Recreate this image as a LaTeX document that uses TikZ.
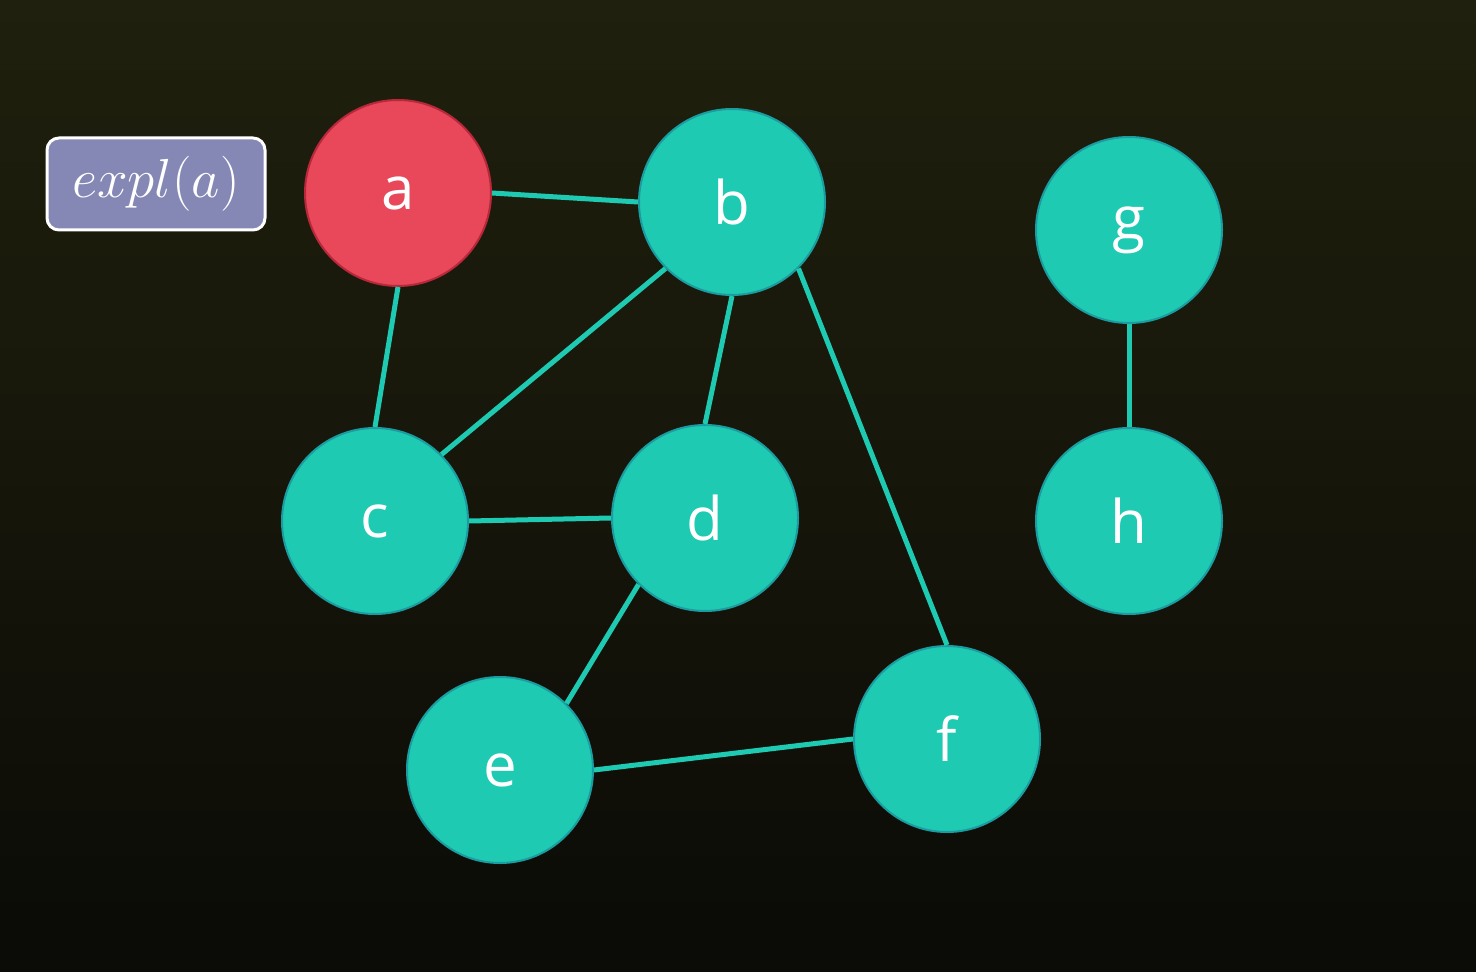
\documentclass[tikz,border=0pt]{standalone}
\usepackage{fix-cm}
\usepackage{fontspec}
\setsansfont{Open Sans}
\begin{document}
\definecolor{bgtop}{HTML}{20200E}
\definecolor{bgbot}{HTML}{0B0B07}
\definecolor{teal}{HTML}{1FCAB2}
\definecolor{tealdark}{HTML}{1A9CA0}
\definecolor{redfill}{HTML}{E8485A}
\definecolor{reddark}{HTML}{B8283A}
\definecolor{boxfill}{HTML}{8588B4}
\begin{tikzpicture}[x=0.5pt,y=-0.5pt,
  vert/.style={circle,minimum size=93pt,inner sep=0pt,fill=teal,draw=tealdark,line width=1pt,
    text=white,font=\sffamily\fontsize{30}{30}\selectfont},
  hot/.style={vert,fill=redfill,draw=reddark},
  edge/.style={draw=teal,line width=2.5pt},
  expbox/.style={rounded corners=6pt,fill=boxfill,draw=white,line width=1.5pt,
    minimum width=109pt,minimum height=46pt,inner sep=0pt,text=white}]
\useasboundingbox (0,0) rectangle (1476,972);
\shade[top color=bgtop,bottom color=bgbot] (0,0) rectangle (1476,972);

\node[expbox] (lbl) at (156,184) {\fontsize{27.5}{27.5}\selectfont\raisebox{-1.5pt}{$expl(a)$}};

\node[hot]  (a) at (398,193) {\raisebox{-2pt}{a}};
\node[vert] (b) at (732,202) {b};
\node[vert] (g) at (1129,230) {g};
\node[vert] (c) at (375,521) {\raisebox{-2pt}{c}};
\node[vert] (d) at (705,518) {d};
\node[vert] (h) at (1129,521) {h};
\node[vert] (e) at (500,770) {\raisebox{-2pt}{e}};
\node[vert] (f) at (947,739) {f};

\path[edge] (a.east) -- (b.west);
\path[edge] (a.south) -- (c.north);
\path[edge] (b.south west) -- (c.north east);
\path[edge] (b.south) -- (d.north);
\path[edge] (b.south east) -- (f.north);
\path[edge] (c.east) -- (d.west);
\path[edge] (d.south west) -- (e.north east);
\path[edge] (e.east) -- (f.west);
\path[edge] (g.south) -- (h.north);
\end{tikzpicture}
\end{document}
